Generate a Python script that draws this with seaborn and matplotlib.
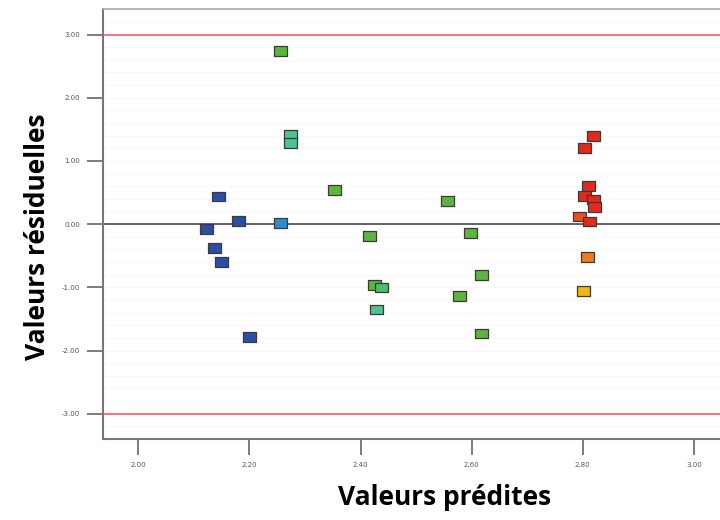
import matplotlib
matplotlib.use("Agg")
import matplotlib.pyplot as plt
import seaborn as sns
import pandas as pd
import numpy as np
from matplotlib.path import Path

# Data
predicted = [2.123, 2.145, 2.138, 2.150, 2.180, 2.200,
             2.256,
             2.256, 2.274, 2.274, 2.354, 2.417, 2.425, 2.437, 2.428,
             2.556, 2.598, 2.617, 2.578, 2.617,
             2.820, 2.803, 2.811, 2.803, 2.819, 2.822, 2.795, 2.813, 2.809, 2.802]
residuals = [-0.08, 0.44, -0.38, -0.60, 0.05, -1.79,
             0.02,
             2.74, 1.42, 1.28, 0.54, -0.19, -0.96, -1.00, -1.35,
             0.37, -0.14, -0.80, -1.14, -1.73,
             1.39, 1.20, 0.60, 0.45, 0.39, 0.27, 0.12, 0.04, -0.52, -1.06]
groups = ["blue"] * 6 + ["lightblue"] + \
         ["green", "teal", "teal", "green", "green", "green", "greenteal", "teal"] + \
         ["green"] * 5 + \
         ["red", "red", "red", "red", "red", "red", "orangered", "red", "orange", "yellow"]

palette = {
    "blue": "#2b4ea6",
    "lightblue": "#2f8ccc",
    "green": "#5cb63c",
    "greenteal": "#4cbf6a",
    "teal": "#4fc38e",
    "red": "#e5281d",
    "orangered": "#ef4c1c",
    "orange": "#f07a1e",
    "yellow": "#f4b414",
}

x_ticks = [2.00, 2.20, 2.40, 2.60, 2.80, 3.00]
y_ticks = [-3.00, -2.00, -1.00, 0.00, 1.00, 2.00, 3.00]

df = pd.DataFrame({"pred": predicted, "res": residuals, "grp": groups})

sns.set_theme(style="white")
plt.rcParams['font.family'] = ['DejaVu Sans']

fig = plt.figure(figsize=(7.2, 5.2), dpi=100)
ax = fig.add_axes([102.7 / 720, 81 / 520, 1 - 102.7 / 720, (439 - 9.3) / 520])

# faint background lines
for yy in np.arange(-3.4, 3.41, 0.2):
    ax.axhline(yy, color="#f7f7f7", lw=0.6, zorder=0)

ax.axhline(3, color="#f26b78", lw=1.3, zorder=1)
ax.axhline(-3, color="#f26b78", lw=1.3, zorder=1)
ax.axhline(0, color="#3a3a3a", lw=1.1, zorder=1)

rect = Path([(-1.35, -1), (1.35, -1), (1.35, 1), (-1.35, 1), (-1.35, -1)],
            [Path.MOVETO, Path.LINETO, Path.LINETO, Path.LINETO, Path.CLOSEPOLY])

sns.scatterplot(data=df, x="pred", y="res", hue="grp", palette=palette,
                marker=rect, s=88, edgecolor="#3a3a3a", linewidth=0.9,
                legend=False, ax=ax, zorder=3)

ax.set_xlim(1.936, 3.047)
ax.set_ylim(-3.4, 3.4)
ax.set_xticks(x_ticks)
ax.set_xticklabels([f"{v:.2f}" for v in x_ticks])
ax.set_yticks(y_ticks)
ax.set_yticklabels([f"{v:.2f}" for v in y_ticks])

ax.tick_params(axis="both", which="major", direction="out", length=11.5, width=1.2,
               color="#666666", labelsize=5, labelcolor="#555555", pad=5,
               left=True, bottom=True)

for side in ["left", "bottom"]:
    ax.spines[side].set_color("#777777")
    ax.spines[side].set_linewidth(1.5)
ax.spines["top"].set_color("#aaaaaa")
ax.spines["top"].set_linewidth(1.2)
ax.spines["right"].set_visible(False)

ax.set_xlabel("Valeurs prédites", fontsize=19, fontweight="bold", color="black",
              family=["Open Sans", "DejaVu Sans"])
ax.set_ylabel("Valeurs résiduelles", fontsize=19, fontweight="bold", color="black",
              family=["Open Sans", "DejaVu Sans"])
ax.xaxis.set_label_coords(0.553, -0.137)
ax.xaxis.label.set_va("center")
ax.yaxis.set_label_coords(-0.106, 0.47)
ax.yaxis.label.set_va("center")
ax.grid(False)

fig.savefig("out.png", dpi=100, facecolor="white")
